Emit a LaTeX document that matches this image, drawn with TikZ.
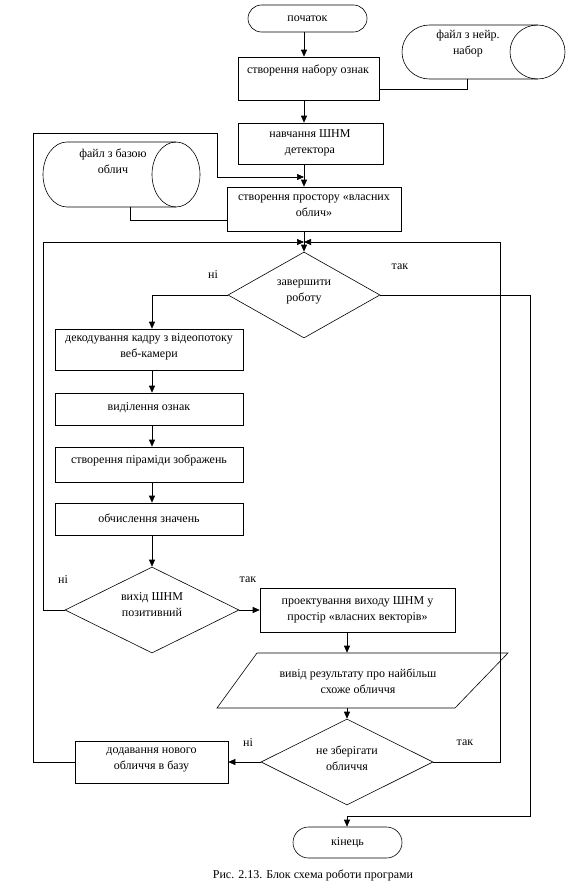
\documentclass[tikz,border=0pt]{standalone}
\usepackage{fontspec}
\setmainfont{Liberation Serif}
\usetikzlibrary{arrows.meta,shapes.geometric}
\begin{document}
\begin{tikzpicture}[x=1pt,y=-1pt,line width=0.6pt,
  boxst/.style={draw,rectangle,inner sep=0pt},
  termst/.style={draw,rectangle,inner sep=0pt,font=\fontsize{12}{16}\selectfont},
  decst/.style={draw,diamond,inner sep=0pt},
  ghost/.style={rectangle,inner sep=0pt},
  txt/.style={font=\fontsize{12}{16}\selectfont,align=center,inner sep=0pt},
  lbl/.style={font=\fontsize{12}{14}\selectfont,inner sep=0pt},
  arr/.style={-{Triangle[length=7pt,width=6pt]}}
]
\useasboundingbox (0,0) rectangle (586,894);
% column coordinates
\coordinate (cx) at (304,0);
\coordinate (lx) at (152,0);
\coordinate (rx) at (347,0);
\coordinate (j1) at (467,89);
\coordinate (j2) at (130,220);
\coordinate (L1) at (33,133);
\coordinate (L2) at (217,177);
\coordinate (L3) at (43,242);
\coordinate (R1) at (500,242);
\coordinate (R2) at (530,816);

% terminals
\node[termst,rounded corners=13.5pt,minimum width=119pt,minimum height=27pt] (start) at (307.5,18.5) {початок};
\node[termst,rounded corners=15.5pt,minimum width=109pt,minimum height=31pt] (end) at (347.5,842.5) {кінець};

% file drums
\node[ghost,minimum width=163pt,minimum height=54pt] (f1) at (483.5,52) {};
\draw (537.5,25) -- (429.5,25) arc[start angle=270,end angle=90,x radius=27.5,y radius=27] -- (537.5,79);
\draw (537.5,52) ellipse[x radius=27.5,y radius=27];
\node[txt] at (468,43.5) {файл з нейр.\\набор};

\node[ghost,minimum width=157pt,minimum height=65pt] (f2) at (121.5,174.5) {};
\draw (176,142) -- (67,142) arc[start angle=270,end angle=90,x radius=24,y radius=32.5] -- (176,207);
\draw (176,174.5) ellipse[x radius=24,y radius=32.5];
\node[txt] at (113,161.5) {файл з базою\\облич};

% process boxes
\node[boxst,minimum width=141pt,minimum height=43pt] (b1) at (308.5,78.5) {};
\node[txt] at (308,70) {створення набору ознак};
\node[boxst,minimum width=145pt,minimum height=41pt] (b2) at (310.5,143.5) {};
\node[txt] at (310,142.5) {навчання ШНМ\\детектора};
\node[boxst,minimum width=174pt,minimum height=44pt] (b3) at (314,209) {};
\node[txt] at (314,206) {створення простору «власних\\облич»};
\node[boxst,minimum width=188pt,minimum height=41pt] (b4) at (149,349.5) {};
\node[txt] at (149,346.5) {декодування кадру з відеопотоку\\веб-камери};
\node[boxst,minimum width=188pt,minimum height=32pt] (b5) at (149,409) {};
\node[txt] at (149,408) {виділення ознак};
\node[boxst,minimum width=188pt,minimum height=35pt] (b6) at (149,464.5) {};
\node[txt] at (149,460) {створення піраміди зображень};
\node[boxst,minimum width=188pt,minimum height=32pt] (b7) at (149,519) {};
\node[txt] at (149,518) {обчислення значень};
\node[boxst,minimum width=195pt,minimum height=44pt] (b8) at (357.5,610) {};
\node[txt] at (357.5,609.5) {проектування виходу ШНМ у\\простір «власних векторів»};
\node[boxst,minimum width=153pt,minimum height=42pt] (b9) at (151.5,762) {};
\node[txt] at (151.5,759.5) {додавання нового\\обличчя в базу};

% parallelogram
\node[ghost,minimum width=200pt,minimum height=55pt] (p) at (347,680.5) {};
\draw (257,653) -- (508,653) -- (455,708) -- (217,708) -- cycle;
\node[txt] at (358,681) {вивід результату про найбільш\\схоже обличчя};

% decisions
\node[decst,minimum width=152pt,minimum height=86pt] (d1) at (304,295) {};
\node[txt] at (304,291.5) {завершити\\роботу};
\node[decst,minimum width=174pt,minimum height=86pt] (d2) at (152,610) {};
\node[txt] at (152,605) {вихід ШНМ\\позитивний};
\node[decst,minimum width=172pt,minimum height=86pt] (d3) at (347,762) {};
\node[txt] at (347,758.5) {не зберігати\\обличчя};

% labels
\node[lbl] at (213,275) {ні};
\node[lbl] at (400,267) {так};
\node[lbl] at (63,580) {ні};
\node[lbl] at (248,580) {так};
\node[lbl] at (248,743) {ні};
\node[lbl] at (465,743) {так};

% caption
\node[lbl] (cap) at (313,875) {Рис. 2.13. Блок схема роботи програми};

% connectors
\draw[arr] (start.south -| cx) -- (b1.north -| cx);
\draw (f1.south -| j1) |- (b1.east |- j1);
\draw[arr] (b1.south -| cx) -- (b2.north -| cx);
\draw[arr] (b2.south -| cx) -- (b3.north -| cx);
\draw (f2.south -| j2) |- (b3.west |- j2);
\draw[arr] (b9.west) -| (L1) -| (L2) -- (L2 -| cx);
\draw[arr] (b3.south -| cx) -- (d1.north);
\draw[arr] (d2.west) -| (L3) -- (L3 -| cx);
\draw[arr] (d3.east) -| (R1) -- (R1 -| cx);
\draw[arr] (d1.west) -| (b4.north -| lx);
\draw[arr] (d1.east) -| (R2) -- (R2 -| rx) -- (end.north -| rx);
\draw[arr] (b4.south -| lx) -- (b5.north -| lx);
\draw[arr] (b5.south -| lx) -- (b6.north -| lx);
\draw[arr] (b6.south -| lx) -- (b7.north -| lx);
\draw[arr] (b7.south -| lx) -- (d2.north);
\draw[arr] (d2.east) -- (b8.west |- d2.east);
\draw[arr] (b8.south -| rx) -- (p.north);
\draw[arr] (p.south) -- (d3.north);
\draw[arr] (d3.west) -- (b9.east);
\end{tikzpicture}
\end{document}
